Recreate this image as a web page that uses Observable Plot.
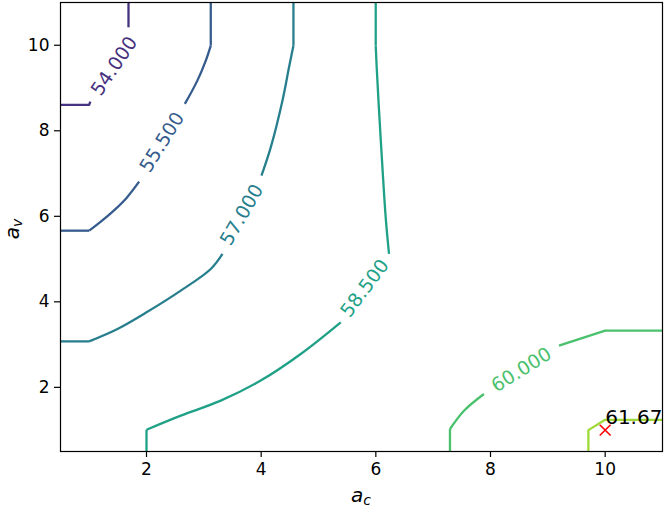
<!DOCTYPE html>
<html>
<head>
<meta charset="utf-8">
<script src="https://cdn.jsdelivr.net/npm/d3@7"></script>
<script src="https://cdn.jsdelivr.net/npm/@observablehq/plot@0.6"></script>
<style>
  html, body { margin: 0; padding: 0; background: #fff; }
  #chart svg { display: block; }
</style>
</head>
<body>
<div id="chart"></div>
<script>
// ---- data ----
const xTicks = [2, 4, 6, 8, 10];
const yTicks = [2, 4, 6, 8, 10];
const colorLevels = [52.5, 63];   // colour normalisation range of the contour levels

// contour pieces [a_c, a_v]; "edge" pieces are straight (coarse grid cells at the borders),
// "curve" pieces are the smooth interior parts; lines are cut where inline labels sit
const edge54a   = [[0.5, 8.605], [1.0, 8.605], [1.02, 8.68]];
const edge54b   = [[1.686, 10.42], [1.686, 11]];
const edge555a  = [[0.5, 5.664], [1.0, 5.664]];
const curve555a = [[1.0, 5.664], [1.203, 5.875], [1.429, 6.133], [1.656, 6.436], [1.871, 6.81]];
const curve555b = [[2.669, 8.628], [2.887, 9.173], [3.034, 9.641], [3.121, 9.992]];
const edge555b  = [[3.121, 9.992], [3.121, 11]];
const edge57a   = [[0.5, 3.075], [1.0, 3.075]];
const curve57a  = [[1.0, 3.075], [1.494, 3.365], [2.0, 3.754], [2.598, 4.262], [3.121, 4.768], [3.325, 5.12]];
const curve57b  = [[4.005, 6.951], [4.167, 7.613], [4.371, 8.705], [4.486, 9.484], [4.563, 9.992]];
const edge57b   = [[4.563, 9.992], [4.563, 11]];
const edge585a  = [[2.0, 0.5], [2.0, 1.01]];
const curve585a = [[2.0, 1.01], [2.598, 1.339], [3.295, 1.69], [3.992, 2.158], [4.69, 2.78], [5.388, 3.52]];
const curve585b = [[6.23, 5.119], [6.172, 5.975], [6.115, 7.145], [6.056, 8.471], [6.015, 9.484], [5.998, 9.992]];
const edge585b  = [[5.998, 9.992], [5.998, 11]];
const edge60a   = [[7.293, 0.5], [7.293, 1.026]];
const curve60a  = [[7.293, 1.026], [7.538, 1.454], [7.886, 1.844]];
const edge60b   = [[9.194, 2.974], [10.0, 3.325], [11, 3.325]];
const edge615   = [[9.707, 0.5], [9.707, 1.0], [10.0, 1.24], [11, 1.24]];

const straightPieces = [
  [54, edge54a], [54, edge54b], [55.5, edge555a], [55.5, edge555b],
  [57, edge57a], [57, edge57b], [58.5, edge585a], [58.5, edge585b],
  [60, edge60a], [60, edge60b], [61.5, edge615]
];
const curvedPieces = [
  [55.5, curve555a], [55.5, curve555b], [57, curve57a], [57, curve57b],
  [58.5, curve585a], [58.5, curve585b], [60, curve60a]
];

// inline contour labels
const labelLevels = [54, 55.5, 57, 58.5, 60];
const labelX      = [1.44, 2.272, 3.665, 5.809, 8.54];
const labelY      = [9.512, 7.73, 6.034, 4.319, 2.408];
const labelAngle  = [-56, -58, -60, -53, -32];

// maximum marker
const maxPoint = [{x: 10, y: 1}];
const maxText  = [{x: 10, y: 1.14, text: "61.67"}];

// ---- build tables ----
const toRows = pieces => pieces.flatMap(([level, pts], i) =>
  pts.map(([x, y]) => ({x, y, level, seg: i})));
const straightRows = toRows(straightPieces);
const curvedRows = toRows(curvedPieces);
const labelRows = labelLevels.map((level, i) => ({
  level, x: labelX[i], y: labelY[i], rot: labelAngle[i], text: level.toFixed(3)
}));

const font = "DejaVu Sans, sans-serif";
const lineStyle = {x: "x", y: "y", z: "seg", stroke: "level",
  strokeWidth: 2.3, strokeLinecap: "butt", strokeLinejoin: "round"};

const chart = Plot.plot({
  width: 664,
  height: 509,
  marginLeft: 60,
  marginRight: 2,
  marginTop: 2,
  marginBottom: 58,
  style: {fontFamily: font, fontSize: "17px", background: "white", color: "black"},
  x: {domain: [0.5, 11]},
  y: {domain: [0.5, 11]},
  color: {type: "linear", scheme: "viridis", domain: colorLevels},
  marks: [
    Plot.line(straightRows, {...lineStyle, curve: "linear"}),
    Plot.line(curvedRows, {...lineStyle, curve: "catmull-rom"}),
    Plot.text(labelRows, {
      x: "x", y: "y", text: "text", rotate: "rot", fill: "level",
      fontSize: 19, fontFamily: font, textAnchor: "middle", lineAnchor: "middle"
    }),
    Plot.dot(maxPoint, {x: "x", y: "y", symbol: "times", stroke: "red", r: 5, strokeWidth: 1.6}),
    Plot.text(maxText, {
      x: "x", y: "y", text: "text", fill: "black",
      fontSize: 20, fontFamily: font, textAnchor: "start", lineAnchor: "bottom"
    }),
    Plot.frame({stroke: "black", strokeWidth: 1.2}),
    Plot.axisX({ticks: xTicks, tickSize: 6, tickPadding: 5, label: null, fontSize: 17,
                tickFormat: d => String(d), strokeWidth: 1.2}),
    Plot.axisY({ticks: yTicks, tickSize: 6, tickPadding: 5, label: null, fontSize: 17,
                tickFormat: d => String(d), strokeWidth: 1.2})
  ]
});

document.getElementById("chart").appendChild(chart);

// axis labels with subscripts (math-style italic)
const svg = d3.select(chart);
const xl = svg.append("text")
  .attr("x", 361).attr("y", 502)
  .attr("text-anchor", "middle")
  .style("font-family", font).style("font-style", "italic").style("font-size", "20px")
  .attr("fill", "black");
xl.append("tspan").text("a");
xl.append("tspan").attr("dy", 3).style("font-size", "14px").text("c");

const yl = svg.append("text")
  .attr("transform", "translate(19,229) rotate(-90)")
  .attr("text-anchor", "middle")
  .style("font-family", font).style("font-style", "italic").style("font-size", "20px")
  .attr("fill", "black");
yl.append("tspan").text("a");
yl.append("tspan").attr("dy", 3).style("font-size", "14px").text("v");
</script>
</body>
</html>
